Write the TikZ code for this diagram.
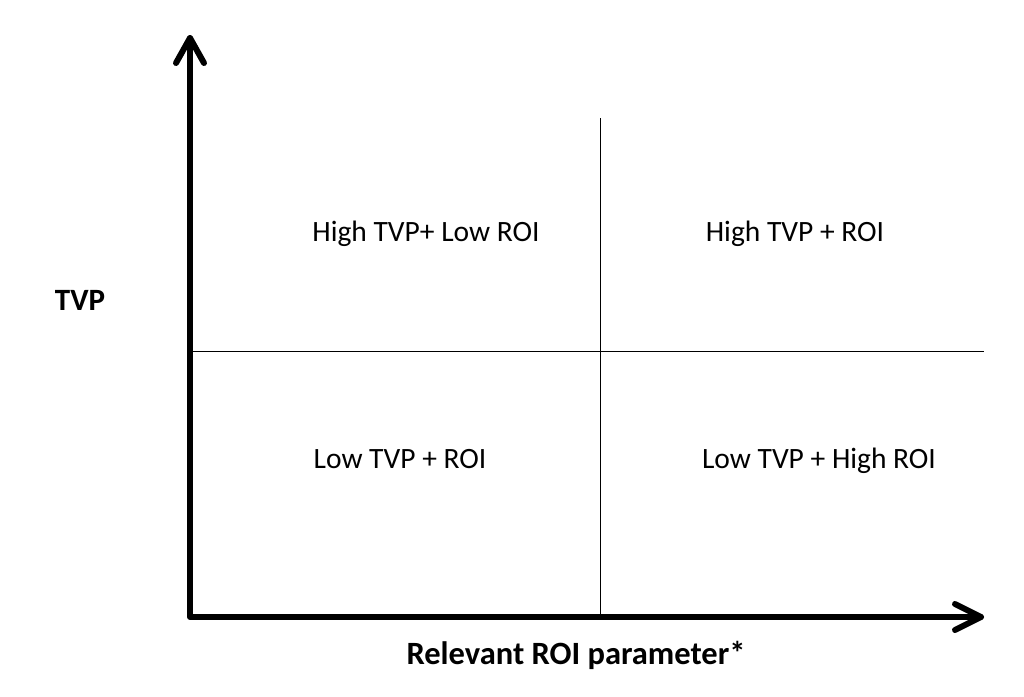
\documentclass[tikz,border=0pt]{standalone}
\usepackage{fontspec}
\setmainfont{Carlito}
\begin{document}
\begin{tikzpicture}[x=1pt,y=-1pt,
  axis/.style={line width=6pt,line cap=round,line join=round},
  quad/.style={line width=1pt},
  lbl/.style={font=\fontsize{29.5}{34}\selectfont,inner sep=0pt,anchor=base},
  ttl/.style={font=\fontsize{32.5}{38}\selectfont\bfseries,inner sep=0pt,anchor=base}]
\useasboundingbox (0,0) rectangle (1024,696);
\coordinate (O) at (190,617);
\coordinate (ytip) at (190,38);
\coordinate (xtip) at (981,617);
\coordinate (vtop) at (600,118);
\coordinate (vbot) at (600,614);
\coordinate (hl) at (190,351);
\coordinate (hr) at (984,351);
\draw[quad] (vtop) -- (vbot);
\draw[quad] (hl) -- (hr);
\draw[axis] (ytip) -- (O) -- (xtip);
\draw[axis] (176,63) -- (ytip) -- (204,63);
\draw[axis] (955,604) -- (xtip) -- (955,630);
\node[lbl] (q1) at (426,241) {High TVP+ Low ROI};
\node[lbl] (q2) at (795,241) {High TVP + ROI};
\node[lbl] (q3) at (400,468) {Low TVP + ROI};
\node[lbl] (q4) at (819,468) {Low TVP + High ROI};
\node[ttl,font=\fontsize{31}{36}\selectfont\bfseries] (ylab) at (80,310) {TVP};
\node[ttl] (xlab) at (576,664) {Relevant ROI parameter*};
\end{tikzpicture}
\end{document}
